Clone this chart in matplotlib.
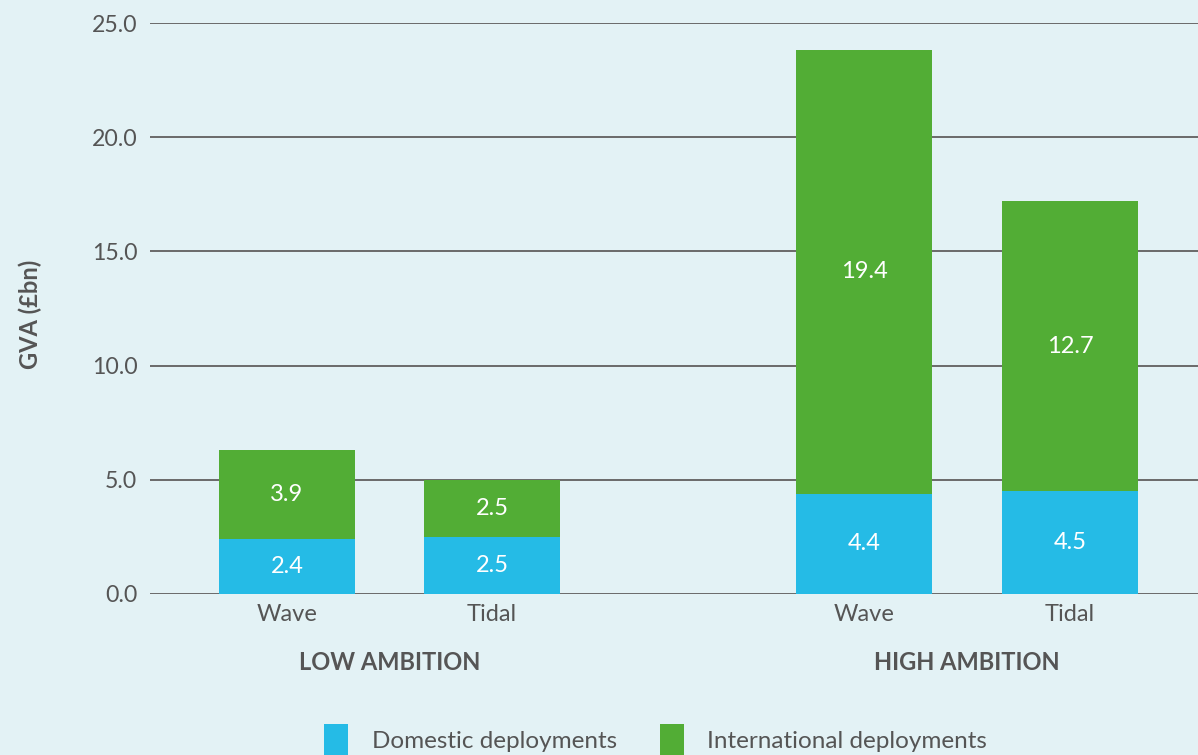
import matplotlib
matplotlib.use("Agg")
import matplotlib.pyplot as plt
from matplotlib.patches import Rectangle

groups = ["LOW AMBITION", "HIGH AMBITION"]
techs = ["Wave", "Tidal", "Wave", "Tidal"]
domestic = [2.4, 2.5, 4.4, 4.5]
international = [3.9, 2.5, 19.4, 12.7]
yticks = [0, 5, 10, 15, 20, 25]
series_names = ["Domestic deployments", "International deployments"]

BG = "#E3F2F5"
BLUE = "#25BBE6"
GREEN = "#52AD35"
GREY = "#555555"

plt.rcParams['font.family'] = ['Lato', 'DejaVu Sans']

W, H = 1198, 755
fig = plt.figure(figsize=(W / 100, H / 100), dpi=100, facecolor=BG)
ax = fig.add_axes([150 / W, (H - 594) / H, (W - 150) / W, (594 - 23) / H])
ax.set_facecolor(BG)

x = [0, 1, 2.815, 3.82]
width = 0.663
ax.bar(x, domestic, width=width, color=BLUE, zorder=3)
ax.bar(x, international, width=width, bottom=domestic, color=GREEN, zorder=3)

for xi, d, i in zip(x, domestic, international):
    ax.text(xi, d / 2, f"{d:.1f}", ha="center", va="center", color="white", fontsize=17, zorder=4)
    ax.text(xi, d + i / 2, f"{i:.1f}", ha="center", va="center", color="white", fontsize=17, zorder=4)

ax.set_ylim(0, 25)
ax.set_xlim(-0.668, 4.444)
ax.set_yticks(yticks)
ax.set_yticklabels([f"{v:.1f}" for v in yticks], color=GREY, fontsize=16.7)
ax.yaxis.grid(True, color="#6a6a6a", linewidth=1.4, zorder=1)
ax.set_axisbelow(True)
ax.tick_params(axis="y", length=0, pad=9)
ax.set_xticks(x)
ax.set_xticklabels(techs, color=GREY, fontsize=17)
ax.tick_params(axis="x", length=0, pad=7)
for s in ax.spines.values():
    s.set_visible(False)

ax.set_ylabel("GVA (£bn)", color=GREY, fontsize=17, fontweight="bold")
ax.yaxis.set_label_coords(-0.103, 0.49)

# group labels
for gi, g in enumerate(groups):
    cx = (x[2 * gi] + x[2 * gi + 1]) / 2
    ax.text(cx, -3.0, g, ha="center", va="center", color=GREY, fontsize=17,
            fontweight="bold", transform=ax.transData)

# legend
colors = [BLUE, GREEN]
lx = [324, 660]
tx = [372, 707]
for c, l, t, name in zip(colors, lx, tx, series_names):
    fig.patches.append(Rectangle((l / W, 0), 24 / W, (H - 724) / H, transform=fig.transFigure,
                                 facecolor=c, edgecolor="none"))
    fig.text(t / W, (H - 741) / H, name, ha="left", va="center", color=GREY, fontsize=17.5)

fig.savefig("out.png", dpi=100, facecolor=BG)
